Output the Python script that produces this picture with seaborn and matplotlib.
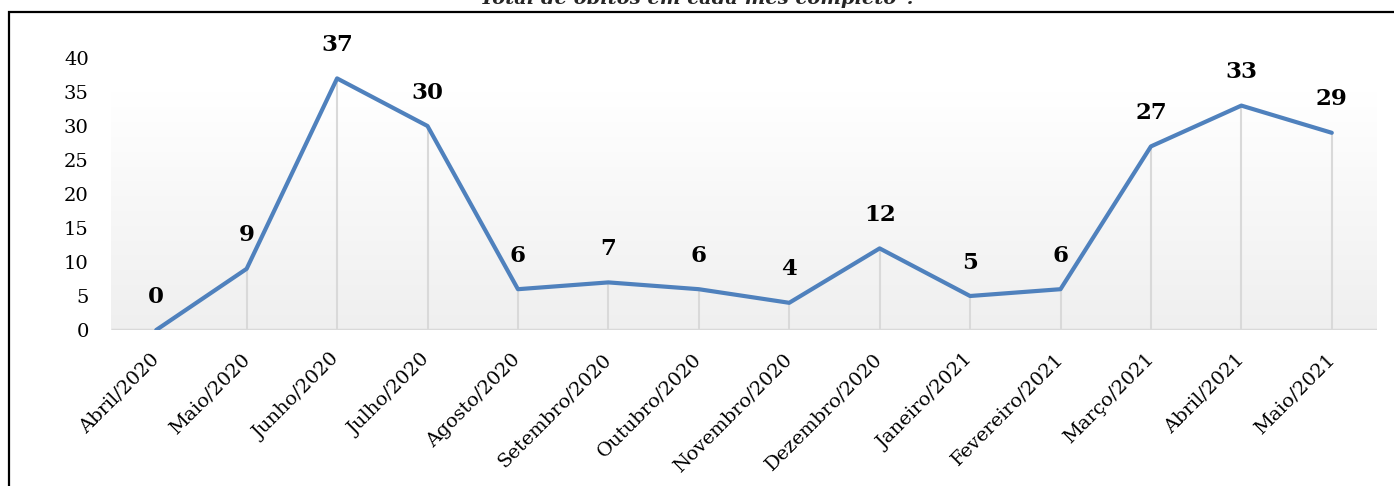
import numpy as np
import pandas as pd
import matplotlib
matplotlib.use("Agg")
import matplotlib.pyplot as plt
from matplotlib.patches import Rectangle
import seaborn as sns

months = ["Abril/2020", "Maio/2020", "Junho/2020", "Julho/2020", "Agosto/2020",
          "Setembro/2020", "Outubro/2020", "Novembro/2020", "Dezembro/2020",
          "Janeiro/2021", "Fevereiro/2021", "Março/2021", "Abril/2021", "Maio/2021"]
deaths = [0, 9, 37, 30, 6, 7, 6, 4, 12, 5, 6, 27, 33, 29]
yticks = [0, 5, 10, 15, 20, 25, 30, 35, 40]
title = "Total de óbitos em cada mês completo*."

sns.set_theme(style="white")
plt.rcParams["font.family"] = ["DejaVu Serif"]

df = pd.DataFrame({"pos": np.arange(len(months)), "mes": months, "obitos": deaths})

fig = plt.figure(figsize=(13.94, 4.86), dpi=100)
ax = fig.add_axes([111/1394, 1 - 330/486, (1377 - 111)/1394, (330 - 58)/486])
ax.patch.set_alpha(0)

n = len(months)
# gradient plot-area background
grad = np.linspace(0, 1, 256).reshape(-1, 1)
cmap = matplotlib.colors.LinearSegmentedColormap.from_list("g", ["#ffffff", "#efefef"])
ax.imshow(grad, extent=[-0.5, n - 0.5, 0, 34.9], aspect="auto", cmap=cmap,
          origin="upper", zorder=0)

# drop lines
ax.vlines(df["pos"], 0, df["obitos"], color="#d9d9d9", lw=1.5, zorder=1)
# base axis line
ax.hlines(0, -0.5, n - 0.5, color="#d9d9d9", lw=2.5, zorder=1)

sns.lineplot(data=df, x="pos", y="obitos", ax=ax, color="#4f81bd", lw=3,
             zorder=3, legend=False)

for x, y in zip(df["pos"], df["obitos"]):
    ax.annotate(str(y), (x, y), xytext=(0, 24), textcoords="offset points",
                ha="center", va="center", fontsize=16.5, fontweight="bold",
                color="black")

ax.set_xlim(-0.5, n - 0.5)
ax.set_ylim(0, 40)
ax.set_yticks(yticks)
ax.set_yticklabels([str(t) for t in yticks], fontsize=14)
ax.set_xticks(df["pos"])
ax.set_xticklabels(months, fontsize=14, rotation=45, ha="right",
                   rotation_mode="anchor", va="center")
ax.tick_params(axis="y", length=0, pad=16, colors="black")
ax.tick_params(axis="x", length=0, pad=19, colors="black")
ax.set_xlabel("")
ax.set_ylabel("")
for s in ax.spines.values():
    s.set_visible(False)
ax.grid(False)

# outer frame (partially cropped)
fig.patches.append(Rectangle((9/1394, -0.2), 1.2, 1 - 12/486 + 0.2,
                             transform=fig.transFigure, fill=False,
                             edgecolor="black", lw=1.6))
fig.text(0.5, 1 - 4/486, title, ha="center", va="baseline", fontsize=14,
         fontweight="bold", fontstyle="italic")

fig.savefig("out.png", dpi=100)
